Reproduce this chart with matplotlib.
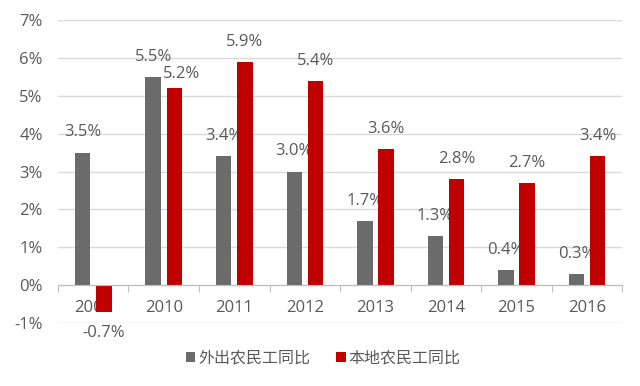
import numpy as np
import matplotlib
matplotlib.use("Agg")
import matplotlib.pyplot as plt
from matplotlib.ticker import FixedLocator, FuncFormatter

plt.rcParams['font.family'] = ['Open Sans', 'Noto Sans CJK SC', 'DejaVu Sans']

# data
years = ["2009", "2010", "2011", "2012", "2013", "2014", "2015", "2016"]
outside = [3.5, 5.5, 3.4, 3.0, 1.7, 1.3, 0.4, 0.3]    # 外出农民工同比
local = [-0.7, 5.2, 5.9, 5.4, 3.6, 2.8, 2.7, 3.4]     # 本地农民工同比
names = ["外出农民工同比", "本地农民工同比"]

gray = "#6b6b6b"
red = "#c00000"
txt = "#595959"
fs = 12

fig = plt.figure(figsize=(6.4, 3.86), dpi=100)
ax = fig.add_axes([0.0905, 0.163, 0.882, 0.785])

x = np.arange(len(years))
w = 0.22
off = 0.15

b1 = ax.bar(x - off, outside, w, color=gray, zorder=1, label=names[0])
b2 = ax.bar(x + off, local, w, color=red, zorder=2, label=names[1])

# data labels
for i, v in enumerate(outside):
    ax.annotate(f"{v:.1f}%", (x[i] - off, v), xytext=(0, 14.5), textcoords="offset points",
                ha="center", va="center", fontsize=fs, color=txt, zorder=1.5)
for i, v in enumerate(local):
    dx = 5 if i == 1 else 0
    dy = 10 if i == 1 else 14.5
    if v < 0:
        dy = -15
    ax.annotate(f"{v:.1f}%", (x[i] + off, v), xytext=(dx, dy), textcoords="offset points",
                ha="center", va="center", fontsize=fs, color=txt, zorder=3)

ax.set_xlim(-0.5, len(years) - 0.5)
ax.set_ylim(-1, 7)
ax.set_yticks(np.arange(-1, 8))
ax.yaxis.set_major_formatter(FuncFormatter(lambda v, p: f"{v:.0f}%"))
ax.tick_params(axis="y", length=0, pad=11, labelsize=fs, labelcolor=txt)
ax.yaxis.grid(True, color="#d9d9d9", lw=1)
ax.set_axisbelow(True)

ax.spines["bottom"].set_position(("data", 0))
ax.spines["bottom"].set_color("#bfbfbf")
for s in ["top", "right", "left"]:
    ax.spines[s].set_visible(False)

ax.xaxis.set_major_locator(FixedLocator(np.arange(len(years) + 1) - 0.5))
ax.xaxis.set_major_formatter(FuncFormatter(lambda v, p: ""))
ax.xaxis.set_minor_locator(FixedLocator(x))
ax.set_xticklabels(years, minor=True)
ax.tick_params(axis="x", which="major", length=5, color="#bfbfbf", direction="out")
ax.tick_params(axis="x", which="minor", length=0, pad=10.5, labelsize=fs, labelcolor=txt)

fig.legend(handles=[b1, b2], loc="center", bbox_to_anchor=(0.505, 0.073), ncol=2,
           frameon=False, prop={"family": ["Noto Sans CJK SC"], "size": 11.5},
           handlelength=0.6, handleheight=0.6,
           handletextpad=0.2, columnspacing=1.6, labelcolor=txt)

fig.savefig("out.png", dpi=100)
